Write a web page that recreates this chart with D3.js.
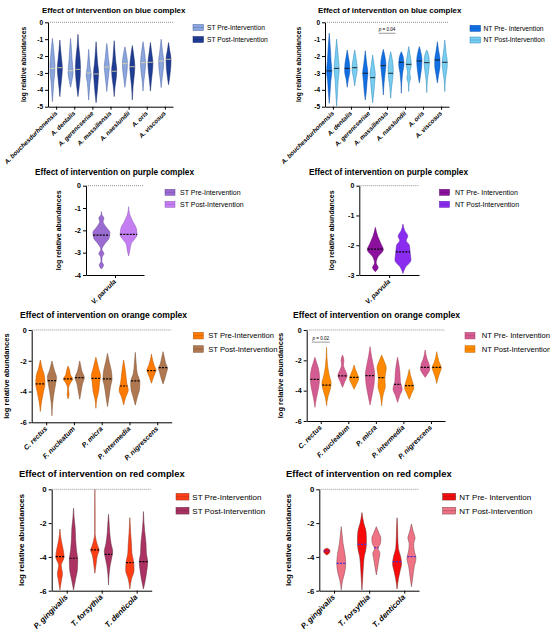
<!DOCTYPE html>
<html>
<head>
<meta charset="utf-8">
<script src="https://cdn.jsdelivr.net/npm/d3@7"></script>
<title>Violin plots by bacterial complex</title>
<style>
body { margin:0; background:#fff; }
text { font-family: Arial, "Liberation Sans", sans-serif; }
</style>
</head>
<body>
<svg id="chart" width="550" height="634"></svg>
<script>
// ---- data: categories, medians, violin shapes [value, relative half-width] ----
var blueCats = ["A. bouchesdurhonensis", "A. dentalis", "A. gerencseriae", "A. massiliensis", "A. naeslundii", "A. oris", "A. viscosus"];
var purpleCats = ["V. parvula"];
var orangeCats = ["C. rectus", "F. nucleatum", "P. micra", "P. intermedia", "P. nigrescens"];
var redCats = ["P. gingivalis", "T. forsythia", "T. denticola"];

var blueStPreMed  = [-2.73, -2.87, -3.0, -2.65, -2.45, -2.39, -2.29];
var blueStPostMed = [-2.69, -2.79, -3.06, -2.9, -2.63, -2.37, -2.19];
var blueNtPreMed  = [-2.88, -2.73, -3.02, -2.57, -2.37, -2.29, -2.23];
var blueNtPostMed = [-2.73, -2.69, -3.28, -3.02, -2.49, -2.39, -2.37];

var blueStPre = [
  [[-4.7,0],[-4.2,0.25],[-3.6,0.5],[-3.0,0.9],[-2.6,1],[-2.0,0.7],[-1.5,0.4],[-0.95,0]],
  [[-3.85,0],[-3.5,0.45],[-3.0,1],[-2.7,0.9],[-2.2,0.6],[-1.6,0.35],[-0.95,0]],
  [[-4.6,0],[-4.1,0.25],[-3.6,0.5],[-3.1,1],[-2.7,0.6],[-2.2,0.3],[-1.6,0]],
  [[-4.1,0],[-3.6,0.35],[-3.0,0.8],[-2.6,1],[-2.1,0.6],[-1.6,0.3],[-1.25,0]],
  [[-3.85,0],[-3.4,0.4],[-2.8,0.9],[-2.4,1],[-2.0,0.7],[-1.45,0]],
  [[-4.07,0],[-3.5,0.3],[-2.9,0.8],[-2.4,1],[-1.9,0.7],[-1.15,0]],
  [[-3.87,0],[-3.3,0.4],[-2.7,0.9],[-2.3,1],[-1.8,0.6],[-1.0,0]]
];
var blueStPost = [
  [[-4.4,0],[-3.9,0.3],[-3.2,0.8],[-2.7,1],[-2.2,0.7],[-1.6,0.3],[-1.05,0]],
  [[-4.4,0],[-3.8,0.5],[-3.2,0.9],[-2.7,1],[-2.1,0.8],[-1.4,0.3],[-0.71,0]],
  [[-4.76,0],[-4.2,0.4],[-3.5,0.8],[-3.0,1],[-2.4,0.6],[-1.7,0.25],[-1.15,0]],
  [[-4.4,0],[-3.8,0.35],[-3.2,0.9],[-2.8,1],[-2.3,0.6],[-1.6,0.25],[-1.09,0]],
  [[-4.6,0],[-3.8,0.3],[-3.1,0.8],[-2.6,1],[-2.1,0.7],[-1.38,0]],
  [[-4.07,0],[-3.5,0.35],[-2.9,0.8],[-2.4,1],[-1.9,0.6],[-1.2,0]],
  [[-3.7,0],[-3.2,0.5],[-2.6,0.9],[-2.2,1],[-1.7,0.5],[-1.2,0]]
];
var blueNtPre = [
  [[-4.8,0],[-4.2,0.3],[-3.5,0.6],[-2.9,1],[-2.3,0.7],[-1.6,0.45],[-0.65,0]],
  [[-3.85,0],[-3.4,0.4],[-2.9,1],[-2.5,0.9],[-2.1,0.5],[-1.64,0]],
  [[-4.6,0],[-4.1,0.4],[-3.5,0.7],[-3.0,1],[-2.5,0.6],[-1.68,0]],
  [[-4.3,0],[-3.6,0.3],[-3.0,0.7],[-2.5,1],[-2.0,0.6],[-1.6,0]],
  [[-4.2,0],[-3.6,0.15],[-3.0,0.5],[-2.5,1],[-2.1,0.8],[-1.74,0]],
  [[-3.6,0],[-3.1,0.5],[-2.6,0.9],[-2.2,1],[-1.8,0.6],[-1.44,0]],
  [[-3.6,0],[-3.1,0.5],[-2.6,1],[-2.2,1],[-1.7,0.5],[-1.15,0]]
];
var blueNtPost = [
  [[-4.96,0],[-4.2,0.3],[-3.4,0.6],[-2.8,1],[-2.2,0.7],[-1.6,0.35],[-1.0,0]],
  [[-3.77,0],[-3.3,0.45],[-2.8,1],[-2.4,0.8],[-2.0,0.4],[-1.64,0]],
  [[-4.76,0],[-4.2,0.4],[-3.5,0.8],[-3.1,1],[-2.6,0.6],[-1.94,0]],
  [[-4.5,0],[-3.9,0.3],[-3.3,0.8],[-2.8,1],[-2.2,0.6],[-1.74,0]],
  [[-4.1,0],[-3.6,0.2],[-3.3,0.7],[-3.0,0.4],[-2.5,1],[-2.0,0.6],[-1.44,0]],
  [[-4.17,0],[-3.5,0.2],[-2.9,0.7],[-2.4,1],[-2.0,0.8],[-1.64,0]],
  [[-4.1,0],[-3.4,0.25],[-2.8,0.8],[-2.4,1],[-1.8,0.5],[-1.05,0]]
];

var purpleStPreMed = [-2.21], purpleStPostMed = [-2.18];
var purpleNtPreMed = [-2.13], purpleNtPostMed = [-2.22];
var purpleStPre = [[[-3.73,0],[-3.55,0.25],[-3.4,0.05],[-3.2,0.08],[-3.05,0.3],[-2.85,0.06],[-2.6,0.4],[-2.35,0.9],[-2.1,1],[-1.85,0.55],[-1.6,0.2],[-1.45,0.3],[-1.3,0.05],[-1.16,0]]];
var purpleStPost = [[[-3.15,0],[-2.9,0.15],[-2.6,0.3],[-2.4,0.7],[-2.2,1],[-1.9,0.9],[-1.6,0.5],[-1.3,0.15],[-0.94,0]]];
var purpleNtPre = [[[-2.89,0],[-2.75,0.35],[-2.6,0.1],[-2.4,0.3],[-2.15,1],[-1.95,0.7],[-1.7,0.3],[-1.4,0]]];
var purpleNtPost = [[[-2.95,0],[-2.75,0.3],[-2.5,1],[-2.25,0.9],[-2.0,0.8],[-1.85,0.4],[-1.7,0.6],[-1.5,0.2],[-1.29,0]]];

var orangeStPreMed  = [-3.5, -3.18, -3.14, -3.64, -2.64];
var orangeStPostMed = [-3.29, -3.1, -3.18, -3.31, -2.45];
var orangeNtPreMed  = [-3.25, -3.03, -3.01, -3.58, -2.46];
var orangeNtPostMed = [-3.63, -3.12, -3.14, -3.67, -2.46];
var orangeStPre = [
  [[-5.3,0],[-4.6,0.3],[-4.0,0.7],[-3.5,1],[-3.0,0.9],[-2.5,0.4],[-1.95,0]],
  [[-4.48,0],[-4.2,0.2],[-3.8,0.1],[-3.4,0.6],[-3.2,1],[-2.9,0.5],[-2.6,0.3],[-2.34,0]],
  [[-5.09,0],[-4.5,0.2],[-4.0,0.6],[-3.4,0.8],[-3.0,1],[-2.5,0.6],[-1.77,0]],
  [[-4.87,0],[-4.4,0.4],[-3.9,1],[-3.5,0.7],[-3.0,0.5],[-2.5,0.3],[-1.95,0]],
  [[-3.46,0],[-3.1,0.4],[-2.8,0.8],[-2.6,1],[-2.3,0.6],[-2.0,0.3],[-1.56,0]]
];
var orangeStPost = [
  [[-5.58,0],[-4.8,0.15],[-4.0,0.5],[-3.5,0.8],[-3.1,1],[-2.6,0.5],[-2.01,0]],
  [[-4.5,0],[-4.0,0.3],[-3.5,0.6],[-3.1,1],[-2.7,0.5],[-2.3,0.2],[-2.01,0]],
  [[-4.98,0],[-4.3,0.35],[-3.6,0.7],[-3.2,1],[-2.6,0.8],[-2.1,0.4],[-1.52,0]],
  [[-4.89,0],[-4.3,0.5],[-3.9,0.9],[-3.4,1],[-2.8,0.4],[-2.2,0.2],[-1.45,0]],
  [[-3.51,0],[-3.1,0.45],[-2.7,0.8],[-2.5,1],[-2.2,0.6],[-1.8,0.3],[-1.41,0]]
];
var orangeNtPre = [
  [[-5.1,0],[-4.5,0.3],[-3.8,0.8],[-3.2,1],[-2.6,0.8],[-2.2,0.4],[-1.8,0]],
  [[-3.78,0],[-3.4,0.5],[-3.0,1],[-2.6,0.5],[-2.3,0.2],[-2.0,0.3],[-1.65,0]],
  [[-4.95,0],[-4.2,0.5],[-3.5,0.9],[-2.9,1],[-2.3,0.7],[-1.7,0.3],[-1.1,0]],
  [[-4.77,0],[-4.3,0.5],[-3.9,1],[-3.4,0.6],[-2.8,0.5],[-2.3,0.3],[-1.8,0]],
  [[-3.12,0],[-2.9,0.5],[-2.6,1],[-2.3,0.9],[-1.9,0.4],[-1.32,0]]
];
var orangeNtPost = [
  [[-5.0,0],[-4.4,0.3],[-3.9,0.8],[-3.5,1],[-3.0,0.6],[-2.4,0.25],[-1.14,0]],
  [[-3.91,0],[-3.6,0.5],[-3.2,1],[-2.9,0.7],[-2.6,0.3],[-2.31,0]],
  [[-5.0,0],[-4.3,0.3],[-3.7,0.8],[-3.2,0.7],[-2.5,1],[-2.1,0.6],[-1.65,0]],
  [[-4.57,0],[-4.2,0.5],[-3.8,1],[-3.5,0.8],[-3.0,0.3],[-2.59,0]],
  [[-3.52,0],[-3.1,0.35],[-2.7,0.8],[-2.5,1],[-2.1,0.5],[-1.43,0]]
];

var redStPreMed  = [-3.98, -3.59, -4.34];
var redStPostMed = [-4.08, -3.85, -4.28];
var redNtPreMed  = [-3.65, -3.26, -4.28];
var redNtPostMed = [-4.38, -3.45, -3.98];
var redStPre = [
  [[-5.96,0],[-5.4,0.35],[-5.0,0.6],[-4.5,0.3],[-4.0,1],[-3.6,0.8],[-3.0,0.3],[-2.35,0]],
  [[-4.97,0],[-4.4,0.3],[-3.9,0.6],[-3.6,1],[-3.3,0.6],[-2.9,0.2],[-2.6,0.05],[-1.0,0.04],[0,0]],
  [[-5.9,0],[-5.3,0.4],[-4.8,1],[-4.3,0.9],[-3.8,0.5],[-3.3,0.4],[-2.6,0.2],[-1.68,0]]
];
var redStPost = [
  [[-5.96,0],[-5.3,0.5],[-4.8,0.9],[-4.2,1],[-3.6,0.7],[-3.0,0.5],[-2.3,0.4],[-1.7,0.15],[-1.12,0]],
  [[-5.66,0],[-5.0,0.15],[-4.5,0.4],[-4.0,0.8],[-3.7,1],[-3.2,0.6],[-2.6,0.3],[-2.0,0.15],[-1.48,0]],
  [[-5.9,0],[-5.3,0.5],[-4.8,0.8],[-4.3,1],[-3.8,0.7],[-3.2,0.6],[-2.5,0.3],[-1.9,0.1],[-1.32,0]]
];
var redNtPre = [
  [[-3.89,0],[-3.75,0.6],[-3.65,0.7],[-3.55,0.5],[-3.49,0]],
  [[-5.96,0],[-5.3,0.15],[-4.6,0.3],[-4.0,0.5],[-3.5,0.9],[-3.0,1],[-2.5,0.9],[-2.0,0.4],[-1.38,0]],
  [[-5.9,0],[-5.3,0.3],[-4.8,0.7],[-4.4,1],[-4.0,0.8],[-3.5,0.3],[-2.8,0.15],[-2.2,0.1],[-1.68,0]]
];
var redNtPost = [
  [[-5.96,0],[-5.4,0.3],[-5.0,0.7],[-4.4,1],[-3.8,0.8],[-3.2,0.4],[-2.7,0.2],[-2.21,0]],
  [[-5.07,0],[-4.6,0.3],[-4.1,0.6],[-3.8,0.8],[-3.5,0.4],[-3.2,0.9],[-2.9,1],[-2.6,0.6],[-2.21,0]],
  [[-5.76,0],[-5.2,0.3],[-4.6,0.6],[-4.1,1],[-3.6,0.6],[-3.2,0.5],[-2.9,0.8],[-2.5,0.4],[-2.05,0]]
];

var ticks5 = [0, -1, -2, -3, -4, -5];
var ticks4 = [0, -1, -2, -3, -4];
var ticks3 = [0, -1, -2, -3];
var ticks6 = [0, -2, -4, -6];

var svg = d3.select("#chart");
var defs = svg.append("defs");

function dots(id, bg, dot) {
  var p = defs.append("pattern").attr("id", id).attr("patternUnits", "userSpaceOnUse")
    .attr("width", 2).attr("height", 2);
  p.append("rect").attr("width", 2).attr("height", 2).attr("fill", bg);
  p.append("circle").attr("cx", 1).attr("cy", 1).attr("r", 0.5).attr("fill", dot);
}
dots("cyanDots", "#5fc4ee", "#e8f8ff");
dots("pinkDots", "#ec5a82", "#6a62d8");

function widthAt(shape, v) {
  for (var k = 0; k < shape.length - 1; k++) {
    var a = shape[k], b = shape[k + 1];
    if (v >= a[0] && v <= b[0]) return a[1] + (b[1] - a[1]) * (v - a[0]) / (b[0] - a[0]);
  }
  return 0;
}

function panel(p) {
  var g = svg.append("g");
  var y = d3.scaleLinear().domain([p.yMin, 0]).range([p.yBot, p.yTop]);
  var x = d3.scalePoint().domain(p.cats).range([p.x0, p.x1]).padding(p.pad);

  g.append("text").attr("x", p.tx).attr("y", p.ty).attr("font-size", p.tfs)
    .attr("font-weight", "bold").text(p.title);

  g.append("line").attr("x1", p.x0).attr("x2", p.x1).attr("y1", y(0)).attr("y2", y(0))
    .attr("stroke", "#777").attr("stroke-width", 0.8).attr("stroke-dasharray", "1,1");

  p.series.forEach(function(s, si) {
    var off = (si === 0 ? -1 : 1) * p.off;
    s.shapes.forEach(function(shape, i) {
      var cx = x(p.cats[i]) + off;
      var area = d3.area().curve(d3.curveMonotoneY)
        .y(function(d) { return y(d[0]); })
        .x0(function(d) { return cx - d[1] * p.hw; })
        .x1(function(d) { return cx + d[1] * p.hw; });
      g.append("path").attr("d", area(shape)).attr("fill", s.fill)
        .attr("stroke", s.stroke).attr("stroke-width", 0.5);
      var m = s.med[i], w = Math.max(widthAt(shape, m) * p.hw, 1.5);
      g.append("line").attr("x1", cx - w).attr("x2", cx + w).attr("y1", y(m)).attr("y2", y(m))
        .attr("stroke", p.medColor).attr("stroke-width", p.medWidth)
        .attr("stroke-dasharray", p.medDash);
    });
  });

  var ya = g.append("g").attr("transform", "translate(" + p.x0 + ",0)")
    .call(d3.axisLeft(y).tickValues(p.ticks).tickSize(3).tickPadding(2).tickSizeOuter(0)
      .tickFormat(function(d) { return String(d); }));
  ya.selectAll("text").attr("font-size", p.tickFs).attr("font-weight", "bold")
    .style("font-family", "Arial, 'Liberation Sans', sans-serif");
  g.append("g").attr("transform", "translate(0," + p.yBot + ")")
    .call(d3.axisBottom(x).tickSize(3).tickSizeOuter(0).tickFormat(""));
  g.selectAll(".domain").attr("stroke-width", 1);

  p.cats.forEach(function(c) {
    g.append("text").attr("transform", "translate(" + (x(c) + 1.5) + "," + (p.yBot + 7) + ") rotate(-45)")
      .attr("text-anchor", "end").attr("font-size", p.xlFs).attr("font-weight", "bold")
      .attr("font-style", "italic").text(c);
  });

  g.append("text").attr("transform", "translate(" + p.ytx + "," + ((p.yTop + p.yBot) / 2) + ") rotate(-90)")
    .attr("text-anchor", "middle").attr("font-size", p.ytFs).attr("font-weight", "bold")
    .text("log relative abundances");

  p.series.forEach(function(s, si) {
    var cy = p.leg.y[si];
    g.append("rect").attr("x", p.leg.x).attr("y", cy - p.leg.h / 2).attr("width", p.leg.w).attr("height", p.leg.h)
      .attr("fill", s.fill).attr("stroke", s.stroke).attr("stroke-width", 0.5);
    g.append("line").attr("x1", p.leg.x).attr("x2", p.leg.x + p.leg.w).attr("y1", cy).attr("y2", cy)
      .attr("stroke", s.stroke).attr("stroke-width", 0.4);
    g.append("text").attr("x", p.leg.tx).attr("y", cy).attr("dy", "0.35em")
      .attr("font-size", p.leg.fs).text(s.name);
  });

  if (p.pval) {
    var px = x(p.cats[p.pval.i]);
    g.append("line").attr("x1", px - p.pval.half).attr("x2", px + p.pval.half)
      .attr("y1", y(p.pval.v)).attr("y2", y(p.pval.v)).attr("stroke", "#333").attr("stroke-width", 0.5);
    var t = g.append("text").attr("x", px).attr("y", y(p.pval.v) - 2).attr("text-anchor", "middle")
      .attr("font-size", 4.6);
    t.append("tspan").attr("font-style", "italic").text("p");
    t.append("tspan").text(" = " + p.pval.label);
  }
}

var solidMed = { medColor: "#111", medWidth: 0.9, medDash: null };

panel(Object.assign({
  title: "Effect of intervention on blue complex", tx: 42, ty: 12.5, tfs: 7.9,
  cats: blueCats, x0: 48, x1: 173, pad: 0.45, yTop: 22.3, yBot: 106.7, yMin: -5, ticks: ticks5,
  off: 3.7, hw: 2.5, ytx: 26, tickFs: 6.5, ytFs: 6.6, xlFs: 6.3,
  leg: { x: 193, y: [27.5, 39.5], w: 10.5, h: 6, tx: 207, fs: 6.7 },
  series: [
    { name: "ST Pre-Intervention", fill: "#8aa6dc", stroke: "#4b64a8", shapes: blueStPre, med: blueStPreMed },
    { name: "ST Post-Intervention", fill: "#1f3d94", stroke: "#16296a", shapes: blueStPost, med: blueStPostMed }
  ]
}, { medColor: "#e6d9a2", medWidth: 0.8, medDash: null }));

panel(Object.assign({
  title: "Effect of intervention on blue complex", tx: 318, ty: 12.5, tfs: 7.9,
  cats: blueCats, x0: 325, x1: 449, pad: 0.44, yTop: 22.3, yBot: 106.7, yMin: -5, ticks: ticks5,
  off: 3.7, hw: 2.6, ytx: 301, tickFs: 6.5, ytFs: 6.6, xlFs: 6.3,
  leg: { x: 470, y: [28.3, 40], w: 10.5, h: 6, tx: 483.5, fs: 6.7 },
  pval: { i: 3, v: -0.65, half: 8.5, label: "0.04" },
  series: [
    { name: "NT Pre- Intervention", fill: "#116fe4", stroke: "#0b4ea6", shapes: blueNtPre, med: blueNtPreMed },
    { name: "NT Post-Intervention", fill: "url(#cyanDots)", stroke: "#2a86b8", shapes: blueNtPost, med: blueNtPostMed }
  ]
}, solidMed));

var dashMed = { medColor: "#000", medWidth: 1.2, medDash: "2,1.2" };

panel(Object.assign({
  title: "Effect of intervention on purple complex", tx: 35, ty: 175, tfs: 8.3,
  cats: purpleCats, x0: 86, x1: 144, pad: 0.5, yTop: 185.7, yBot: 275, yMin: -4, ticks: ticks4,
  off: 13.6, hw: 8.5, ytx: 61, tickFs: 7, ytFs: 7, xlFs: 6.8,
  leg: { x: 165, y: [192.3, 204.3], w: 10, h: 6, tx: 180, fs: 7 },
  series: [
    { name: "ST Pre-Intervention", fill: "#9a6bd0", stroke: "#6a4596", shapes: purpleStPre, med: purpleStPreMed },
    { name: "ST Post-Intervention", fill: "#c47ef2", stroke: "#8e58b8", shapes: purpleStPost, med: purpleStPostMed }
  ]
}, dashMed));

panel(Object.assign({
  title: "Effect of intervention on purple complex", tx: 309, ty: 175, tfs: 8.3,
  cats: purpleCats, x0: 359.3, x1: 419, pad: 0.5, yTop: 185.7, yBot: 275, yMin: -3, ticks: ticks3,
  off: 13.8, hw: 8, ytx: 334, tickFs: 7, ytFs: 7, xlFs: 6.8,
  leg: { x: 439.5, y: [192.3, 204.3], w: 10, h: 6, tx: 455, fs: 7 },
  series: [
    { name: "NT Pre- Intervention", fill: "#8c0f9e", stroke: "#5a0866", shapes: purpleNtPre, med: purpleNtPreMed },
    { name: "NT Post-Intervention", fill: "#8a2cf0", stroke: "#5a1aa6", shapes: purpleNtPost, med: purpleNtPostMed }
  ]
}, dashMed));

panel(Object.assign({
  title: "Effect of intervention on orange complex", tx: 20, ty: 318.3, tfs: 8.6,
  cats: orangeCats, x0: 31.7, x1: 171.7, pad: 0.52, yTop: 330, yBot: 422.3, yMin: -6, ticks: ticks6,
  off: 5.8, hw: 4.6, ytx: 9, tickFs: 7.2, ytFs: 7.5, xlFs: 7,
  leg: { x: 193.3, y: [335.7, 349], w: 10, h: 6.5, tx: 208.3, fs: 7.6 },
  series: [
    { name: "ST Pre-Intervention", fill: "#ff7a00", stroke: "#b35200", shapes: orangeStPre, med: orangeStPreMed },
    { name: "ST Post-Intervention", fill: "#b07850", stroke: "#7a4e30", shapes: orangeStPost, med: orangeStPostMed }
  ]
}, dashMed));

panel(Object.assign({
  title: "Effect of intervention on orange complex", tx: 293, ty: 318.3, tfs: 8.6,
  cats: orangeCats, x0: 306.7, x1: 445, pad: 0.51, yTop: 330, yBot: 421, yMin: -6, ticks: ticks6,
  off: 5.8, hw: 4.6, ytx: 283, tickFs: 7.2, ytFs: 7.5, xlFs: 7,
  leg: { x: 465, y: [335.7, 349], w: 10, h: 6.5, tx: 481.7, fs: 7.6 },
  pval: { i: 0, v: -0.8, half: 9, label: "0.02" },
  series: [
    { name: "NT Pre- Intervention", fill: "url(#pinkDots)", stroke: "#a83a5a", shapes: orangeNtPre, med: orangeNtPreMed },
    { name: "NT Post-Intervention", fill: "#ff8a00", stroke: "#b85f00", shapes: orangeNtPost, med: orangeNtPostMed }
  ]
}, dashMed));

panel(Object.assign({
  title: "Effect of intervention on red complex", tx: 19, ty: 476.7, tfs: 9.4,
  cats: redCats, x0: 51.7, x1: 151.7, pad: 0.43, yTop: 489.3, yBot: 590.7, yMin: -6, ticks: ticks6,
  off: 6.8, hw: 4.2, ytx: 24, tickFs: 7.8, ytFs: 8.1, xlFs: 7.8,
  leg: { x: 176, y: [496.7, 510.7], w: 13, h: 6.7, tx: 192.3, fs: 8 },
  series: [
    { name: "ST Pre-Intervention", fill: "#ff3d12", stroke: "#8a3a30", shapes: redStPre, med: redStPreMed },
    { name: "ST Post-Intervention", fill: "#ab3262", stroke: "#5e2a3c", shapes: redStPost, med: redStPostMed }
  ]
}, dashMed));

panel(Object.assign({
  title: "Effect of intervention on red complex", tx: 286, ty: 476.7, tfs: 9.4,
  cats: redCats, x0: 319.3, x1: 419, pad: 0.42, yTop: 489.3, yBot: 590.7, yMin: -6, ticks: ticks6,
  off: 7.2, hw: 4.5, ytx: 291, tickFs: 7.8, ytFs: 8.1, xlFs: 7.8,
  leg: { x: 442.7, y: [496.7, 510.7], w: 13, h: 6.7, tx: 459.3, fs: 8 },
  series: [
    { name: "NT Pre- Intervention", fill: "#f80a0a", stroke: "#6a2a2a", shapes: redNtPre, med: redNtPreMed },
    { name: "NT Post-Intervention", fill: "#f07285", stroke: "#7a4048", shapes: redNtPost, med: redNtPostMed }
  ]
}, { medColor: "#4b2bd6", medWidth: 1.2, medDash: "2,1.2" }));
</script>
</body>
</html>
